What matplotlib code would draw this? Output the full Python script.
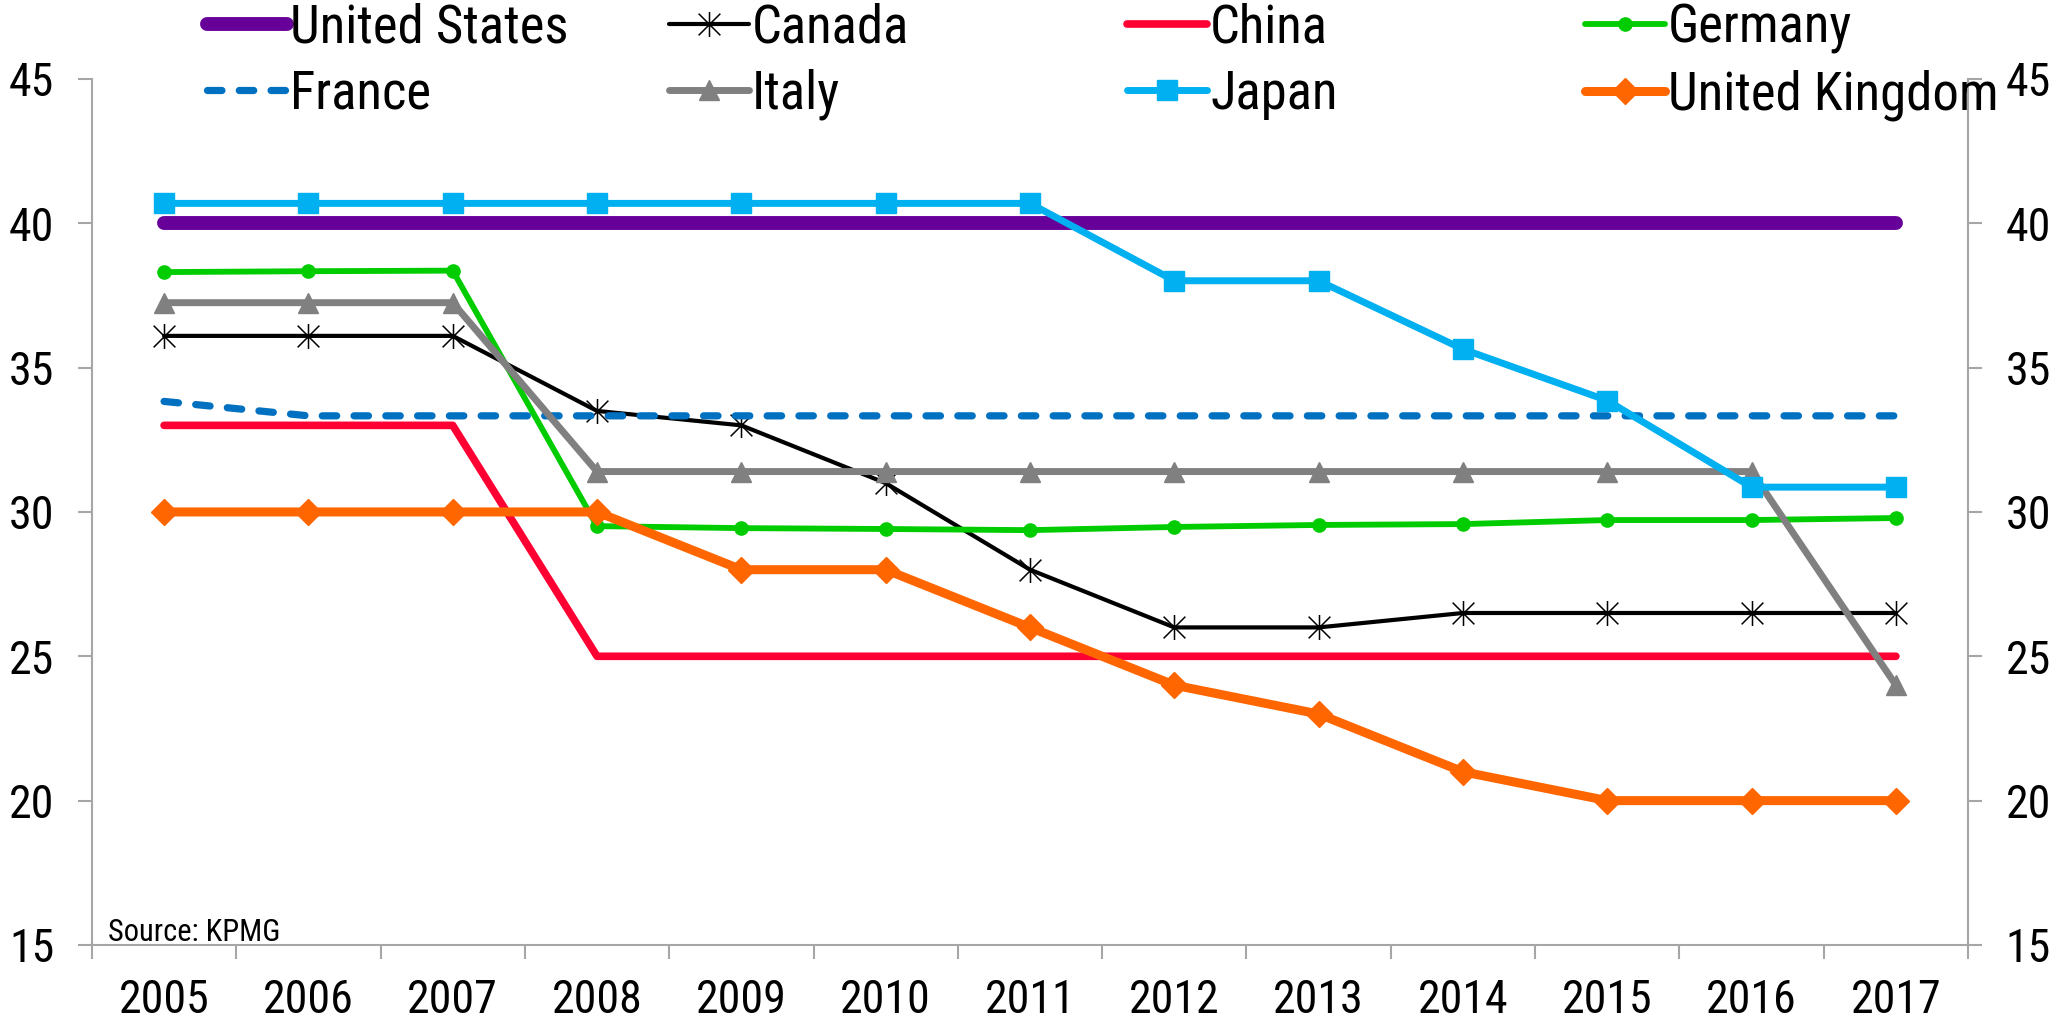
import matplotlib
matplotlib.use("Agg")
import matplotlib.pyplot as plt
from matplotlib.path import Path
from matplotlib import font_manager

# ---------------- data ----------------
years = ["2005", "2006", "2007", "2008", "2009", "2010", "2011",
         "2012", "2013", "2014", "2015", "2016", "2017"]
united_states = [40, 40, 40, 40, 40, 40, 40, 40, 40, 40, 40, 40, 40]
canada = [36.1, 36.1, 36.1, 33.5, 33.0, 31.0, 28.0, 26.0, 26.0, 26.5, 26.5, 26.5, 26.5]
china = [33, 33, 33, 25, 25, 25, 25, 25, 25, 25, 25, 25, 25]
germany = [38.31, 38.34, 38.36, 29.51, 29.44, 29.41, 29.37, 29.48, 29.55, 29.58, 29.72, 29.72, 29.79]
france = [33.83, 33.33, 33.33, 33.33, 33.33, 33.33, 33.33, 33.33, 33.33, 33.33, 33.33, 33.33, 33.33]
italy = [37.25, 37.25, 37.25, 31.4, 31.4, 31.4, 31.4, 31.4, 31.4, 31.4, 31.4, 31.4, 24.0]
japan = [40.69, 40.69, 40.69, 40.69, 40.69, 40.69, 40.69, 38.01, 38.01, 35.64, 33.86, 30.86, 30.86]
united_kingdom = [30, 30, 30, 30, 28, 28, 26, 24, 23, 21, 20, 20, 20]
yticks = [15, 20, 25, 30, 35, 40, 45]
source_text = "Source: KPMG"

# ---------------- fonts ----------------
entries = font_manager.fontManager.ttflist
names = {f.name for f in entries}
family, stretch, narrow = "Liberation Sans", "normal", False
for cand in ["Liberation Sans Narrow", "Arial Narrow", "Roboto Condensed",
             "Open Sans Condensed", "Noto Sans Condensed", "DejaVu Sans Condensed"]:
    if cand in names:
        family, narrow = cand, True
        break
if not narrow:
    for f in entries:
        if (str(f.stretch) in ("condensed", "semi-condensed")
                and f.name in ("Liberation Sans", "Roboto", "Open Sans", "Noto Sans",
                               "DejaVu Sans", "Lato", "Inter")
                and f.style == "normal"):
            family, stretch, narrow = f.name, str(f.stretch), True
            break
plt.rcParams["font.family"] = [family, "DejaVu Sans"]
plt.rcParams["font.stretch"] = stretch

if narrow:
    fs_tick, fs_leg, fs_src = 33, 38, 22
else:
    fs_tick, fs_leg, fs_src = 31, 31.5, 19

GRAY = "#A6A6A6"

fig = plt.figure(figsize=(20.61, 10.23), dpi=100)
ax = fig.add_axes([0.0446, 0.0763, 0.9103, 0.8465])

x = list(range(len(years)))

star = Path([(-1, -1), (1, 1), (-1, 1), (1, -1), (0, -1.15), (0, 1.15)],
            [Path.MOVETO, Path.LINETO, Path.MOVETO, Path.LINETO, Path.MOVETO, Path.LINETO])

common = dict(solid_joinstyle="round", solid_capstyle="round")

h_us, = ax.plot(x, united_states, color="#660099", lw=10, label="United States", **common)
h_ca, = ax.plot(x, canada, color="black", lw=3, marker=star, ms=18, mew=1.1,
                mec="black", mfc="none", label="Canada", **common)
h_cn, = ax.plot(x, china, color="#FF0033", lw=5.5, label="China", **common)
h_de, = ax.plot(x, germany, color="#00CC00", lw=4.2, marker="o", ms=9.5, mec="#00CC00",
                label="Germany", **common)
h_fr, = ax.plot(x, france, color="#0070C0", lw=5.2, dashes=(2.0, 2.4),
                dash_capstyle="round", dash_joinstyle="round", label="France")
h_it, = ax.plot(x, italy, color="#808080", lw=5, marker="^", ms=14.5, mec="#808080",
                label="Italy", **common)
h_jp, = ax.plot(x, japan, color="#00B0F0", lw=5, marker="s", ms=14.5, mec="#00B0F0",
                label="Japan", **common)
h_uk, = ax.plot(x, united_kingdom, color="#FF6600", lw=6.5, marker="D", ms=13, mec="#FF6600",
                label="United Kingdom", **common)

# ---------------- axes ----------------
ax.set_xlim(-0.5, len(years) - 0.5)
ax.set_ylim(15, 45)
ax.set_yticks(yticks)
ax.set_yticklabels([str(v) for v in yticks])
ax.set_xticks(x)
ax.set_xticklabels(years)
ax.set_xticks([i - 0.5 for i in range(len(years) + 1)], minor=True)

for s in ("left", "right", "bottom"):
    ax.spines[s].set_color(GRAY)
    ax.spines[s].set_linewidth(1.5)
ax.spines["top"].set_visible(False)

ax.tick_params(axis="x", which="major", length=0, pad=24, labelsize=fs_tick)
ax.tick_params(axis="x", which="minor", length=10, width=1.5, color=GRAY, direction="out")
ax.tick_params(axis="y", which="major", length=10, width=1.5, color=GRAY, direction="out",
               left=True, right=True, labelleft=True, labelright=True, pad=17,
               labelsize=fs_tick)

ax.text(0.0085, 0.004, source_text, transform=ax.transAxes, fontsize=fs_src,
        ha="left", va="baseline")

# ---------------- legend (4 columns of 2 rows) ----------------
fs_px = fs_leg * 100 / 72
text_h = 0.94 * fs_px
pitch = 64.5
lab_sp = (pitch - text_h) / fs_px
top_px = 27.5 - text_h / 2
cols = [(h_us, h_fr), (h_ca, h_it), (h_cn, h_jp), (h_de, h_uk)]
col_x = [207, 669, 1127, 1585]
for (a, b), px in zip(cols, col_x):
    fig.legend([a, b], [a.get_label(), b.get_label()], loc="upper left",
               bbox_to_anchor=(px / 2061, 1 - top_px / 1023), frameon=False,
               fontsize=fs_leg, borderpad=0, borderaxespad=0,
               handlelength=80 / fs_px, handletextpad=0.06,
               labelspacing=lab_sp, numpoints=1)

fig.savefig("out.png", dpi=100)
